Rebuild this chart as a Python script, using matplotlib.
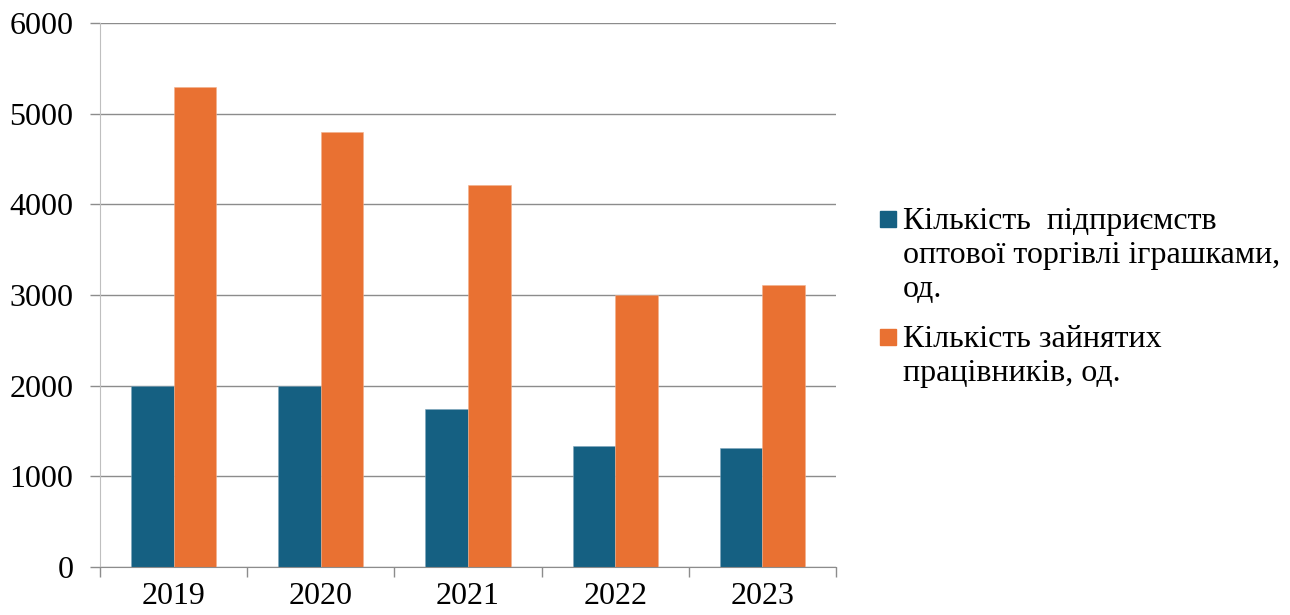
#!/usr/bin/env python3
"""
Toy wholesale trade: enterprises and employees, 2019-2023.
"""

import matplotlib.pyplot as plt
import numpy as np
from matplotlib.patches import Rectangle

# Data
years = ['2019', '2020', '2021', '2022', '2023']
enterprises = [2000, 2000, 1740, 1340, 1310]
employees = [5290, 4800, 4210, 3000, 3110]
series_names = ['Кількість  підприємств\nоптової торгівлі іграшками,\nод.',
                'Кількість зайнятих\nпрацівників, од.']
y_ticks = [0, 1000, 2000, 3000, 4000, 5000, 6000]

blue = '#156082'
orange = '#E97132'
grid_gray = '#8C8C8C'
axis_gray = '#BFBFBF'

plt.rcParams['font.family'] = ['Liberation Serif', 'DejaVu Serif']

fig = plt.figure(figsize=(12.9, 6.15), dpi=100)
ax = fig.add_axes([100 / 1290, 48 / 615, 736 / 1290, 544 / 615])

x = np.arange(len(years))
width = 0.289
ax.bar(x - width / 2, enterprises, width, color=blue, edgecolor='#7FA6BC', linewidth=0.4, zorder=3)
ax.bar(x + width / 2, employees, width, color=orange, edgecolor='#F2B08C', linewidth=0.4, zorder=3)

ax.set_xlim(-0.5, len(years) - 0.5)
ax.set_ylim(0, 6000)
ax.set_yticks(y_ticks)
ax.set_yticklabels([str(v) for v in y_ticks], fontsize=23)
ax.grid(axis='y', color=grid_gray, linewidth=1.0, zorder=0)

ax.set_xticks(x)
ax.set_xticklabels(years, fontsize=23)
ax.set_xticks(np.arange(len(years) + 1) - 0.5, minor=True)
ax.tick_params(axis='x', which='major', length=0, pad=11)
ax.tick_params(axis='x', which='minor', length=7, width=1, color=grid_gray, direction='out')
ax.tick_params(axis='y', length=7, width=1, color=grid_gray, direction='out', pad=12)

for side in ['top', 'right']:
    ax.spines[side].set_visible(False)
ax.spines['left'].set_color(axis_gray)
ax.spines['bottom'].set_color(grid_gray)
ax.spines['bottom'].set_zorder(4)

# Legend drawn by hand so the marker sits on the first line
W, H = 1290, 615
first_baselines = [229, 347]
line_step = 34
for name, color, base in zip(series_names, [blue, orange], first_baselines):
    fig.patches.append(Rectangle((880 / W, 1 - (base - 2) / H), 16 / W, 16 / H,
                                 transform=fig.transFigure, color=color))
    for i, line in enumerate(name.split('\n')):
        fig.text(903 / W, 1 - (base + i * line_step) / H, line, fontsize=23,
                 va='baseline', ha='left')

plt.savefig('out.png', dpi=100)
